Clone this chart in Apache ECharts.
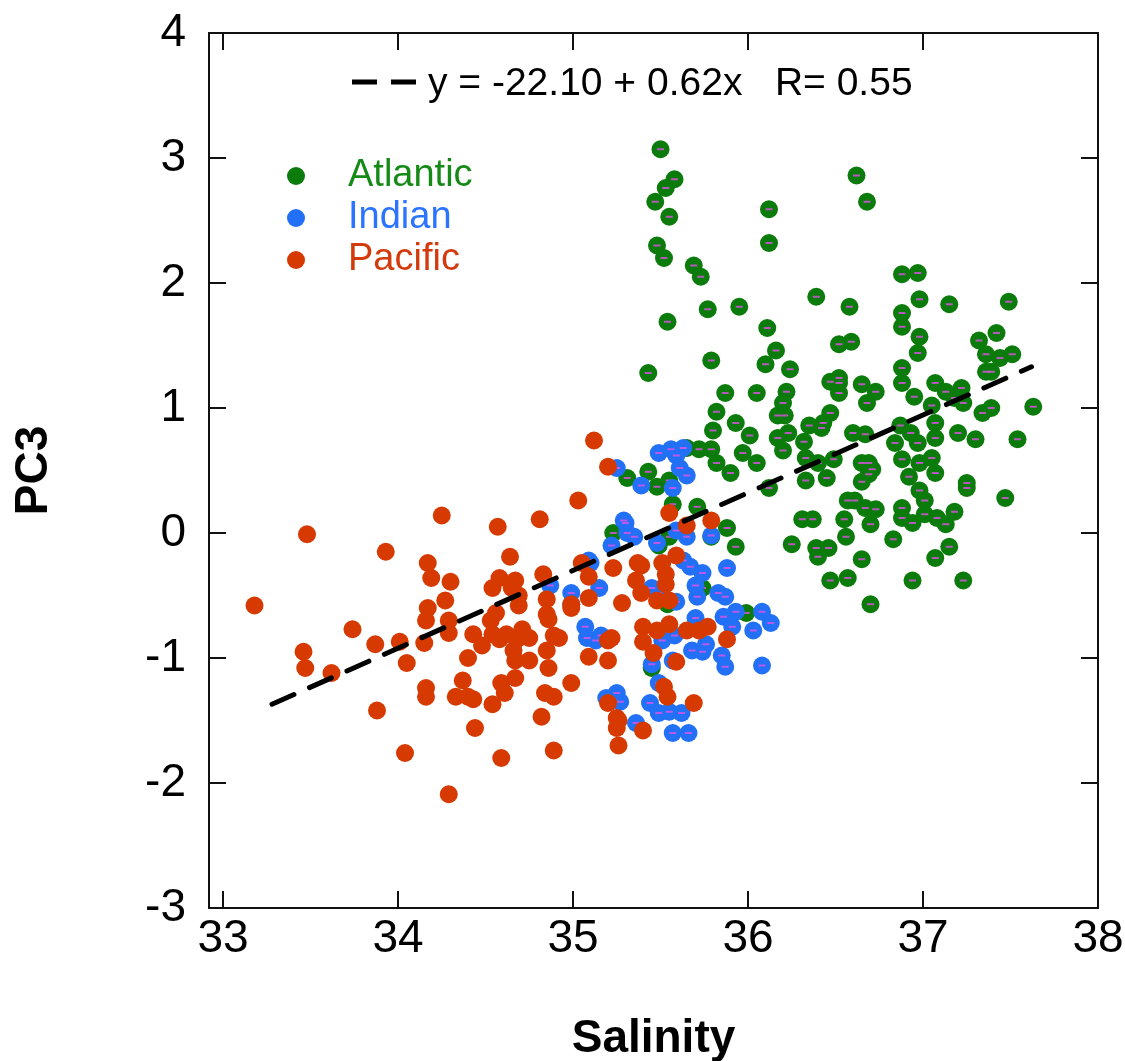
<!DOCTYPE html>
<html>
<head>
<meta charset="utf-8">
<script src="https://cdn.jsdelivr.net/npm/echarts@6/dist/echarts.min.js"></script>
<style>html,body{margin:0;padding:0;background:#fff;}#c{width:1125px;height:1061px;}</style>
</head>
<body>
<div id="c"></div>
<script>
const xTicks = [33, 34, 35, 36, 37, 38];
const yTicks = [-3, -2, -1, 0, 1, 2, 3, 4];
const seriesNames = ['Atlantic', 'Indian', 'Pacific'];
const equationText = 'y = -22.10 + 0.62x   R= 0.55';

const atlantic = [
[35.50,3.07],[35.53,2.76],[35.58,2.83],[35.47,2.65],[35.55,2.53],[35.48,2.30],[35.52,2.20],
[36.62,2.86],[36.68,2.65],[36.12,2.59],[36.12,2.32],[35.69,2.14],[35.73,2.05],[35.54,1.69],
[35.43,1.28],[35.77,1.79],[35.95,1.81],[36.39,1.89],[36.58,1.81],[36.88,2.07],[36.97,2.08],
[36.98,1.87],[37.15,1.83],[37.49,1.85],[36.88,1.76],[36.88,1.65],[36.98,1.57],[36.97,1.44],
[36.11,1.64],[36.16,1.46],[36.10,1.35],[36.24,1.31],[35.79,1.38],[36.52,1.51],[36.59,1.53],
[37.32,1.54],[37.42,1.60],[37.36,1.43],[37.44,1.40],[37.51,1.43],[37.36,1.29],[37.39,1.29],
[36.88,1.32],[36.88,1.20],[36.95,1.09],[37.07,1.20],[37.13,1.13],[37.22,1.16],[37.18,1.08],
[37.23,1.04],[37.05,1.02],[37.07,0.88],[37.07,0.76],[37.20,0.80],[37.30,0.75],[37.34,0.96],
[37.39,1.00],[37.63,1.01],[37.54,0.75],[36.87,0.86],[36.93,0.80],[36.84,0.72],[36.97,0.72],
[36.65,1.19],[36.73,1.13],[36.68,1.04],[36.60,0.80],[36.67,0.79],[36.47,1.21],[36.52,1.24],
[36.52,1.20],[36.52,1.12],[36.47,0.96],[36.43,0.88],[36.42,0.84],[36.35,0.86],[36.32,0.73],
[36.22,1.13],[36.20,1.04],[36.17,0.94],[36.21,0.94],[36.23,0.80],[36.17,0.76],[36.20,0.66],
[36.05,1.12],[35.87,1.12],[35.82,0.97],[35.80,0.82],[35.93,0.88],[36.01,0.78],[35.97,0.64],
[35.72,0.67],[35.79,0.67],[36.88,0.59],[36.98,0.56],[37.05,0.60],[37.07,0.48],[36.92,0.45],
[37.25,0.40],[37.25,0.36],[37.47,0.28],[36.98,0.34],[37.01,0.26],[36.88,0.20],[36.88,0.12],
[36.94,0.08],[37.01,0.15],[37.08,0.12],[37.13,0.07],[37.18,0.17],[37.15,-0.11],[37.07,-0.20],
[37.23,-0.38],[36.94,-0.38],[36.83,-0.05],[36.65,-0.21],[36.70,-0.57],[36.47,-0.38],[36.57,-0.36],
[36.39,-0.12],[36.46,-0.12],[36.40,-0.19],[36.25,-0.09],[36.31,0.11],[36.37,0.11],[36.55,0.11],
[36.56,-0.03],[36.57,0.26],[36.61,0.26],[36.67,0.20],[36.73,0.19],[36.70,0.07],[36.65,0.56],
[36.69,0.56],[36.71,0.51],[36.69,0.47],[36.65,0.41],[36.33,0.42],[36.45,0.44],[36.49,0.59],
[36.40,0.56],[36.33,0.60],[36.12,0.36],[36.05,0.56],[35.90,0.48],[35.65,0.68],[35.82,0.56],
[35.88,0.04],[35.93,-0.11],[35.71,0.21],[35.79,-0.03],[35.43,0.49],[35.31,0.44],[35.48,0.37],
[35.55,0.42],[35.57,0.23],[35.55,-0.03],[35.23,0.00],[35.49,-0.10],[35.99,-0.64],[35.45,-1.08],
[35.74,-0.44],[35.54,-0.57]
];

const indian = [
[35.56,0.67],[35.49,0.64],[35.59,0.62],[35.63,0.68],[35.61,0.52],[35.65,0.46],[35.39,0.38],
[35.57,0.36],[35.25,0.52],[35.30,0.08],[35.31,0.00],[35.35,-0.03],[35.22,-0.10],[35.48,-0.08],
[35.59,0.02],[35.65,-0.03],[35.79,-0.02],[35.88,-0.28],[35.74,-0.32],[35.63,-0.22],[35.67,-0.27],
[35.70,-0.42],[35.71,-0.51],[35.83,-0.48],[35.87,-0.51],[35.93,-0.63],[36.08,-0.63],[36.13,-0.72],
[36.03,-0.78],[36.08,-1.06],[35.86,-0.67],[35.91,-0.75],[34.99,-0.48],[34.99,-0.57],[35.15,-0.44],
[35.10,-0.24],[35.07,-0.75],[35.08,-0.84],[35.16,-0.82],[35.13,-0.86],[35.45,-0.44],[35.49,-0.48],
[35.59,-0.55],[35.70,-0.68],[35.58,-0.82],[35.51,-0.86],[35.68,-0.94],[35.74,-0.95],[35.76,-0.89],
[35.85,-0.98],[35.87,-1.07],[35.57,-1.02],[35.45,-1.05],[35.25,-1.28],[35.19,-1.32],[35.27,-1.35],
[35.44,-1.36],[35.49,-1.20],[35.49,-1.44],[35.55,-1.43],[35.62,-1.44],[35.36,-1.52],[35.57,-1.60],
[35.66,-1.60],[34.87,-0.42],[35.29,0.10],[35.09,-0.22]
];

const pacific = [
[35.03,0.26],[34.25,0.14],[34.57,0.05],[34.81,0.11],[33.48,-0.01],[33.93,-0.15],[34.64,-0.19],
[34.17,-0.24],[34.19,-0.36],[34.30,-0.39],[34.83,-0.33],[35.05,-0.24],[35.09,-0.35],[35.23,-0.28],
[34.58,-0.36],[34.67,-0.38],[34.54,-0.44],[34.65,-0.44],[34.69,-0.50],[34.69,-0.58],[34.27,-0.54],
[34.85,-0.53],[34.85,-0.65],[35.09,-0.52],[34.99,-0.57],[35.28,-0.56],[33.18,-0.58],[34.17,-0.60],
[34.16,-0.70],[34.29,-0.70],[34.29,-0.80],[34.56,-0.64],[34.53,-0.70],[33.74,-0.77],[33.87,-0.89],
[34.01,-0.87],[34.15,-0.88],[33.46,-0.95],[33.47,-1.08],[33.62,-1.12],[34.05,-1.04],[34.43,-0.81],
[34.54,-0.81],[34.48,-0.90],[34.58,-0.85],[34.62,-0.81],[34.71,-0.77],[34.75,-0.84],[34.68,-0.85],
[34.66,-0.94],[34.40,-1.00],[34.67,-1.02],[34.75,-1.02],[34.85,-0.94],[34.86,-1.08],[34.89,-0.82],
[34.92,-0.84],[34.86,-0.69],[34.37,-1.18],[34.67,-1.16],[34.59,-1.20],[34.61,-1.28],[34.54,-1.37],
[34.33,-1.31],[34.40,-1.31],[34.43,-1.33],[34.16,-1.24],[34.16,-1.31],[34.84,-1.28],[34.89,-1.31],
[34.99,-1.20],[34.82,-1.47],[33.88,-1.42],[34.44,-1.56],[34.04,-1.76],[34.59,-1.80],[34.89,-1.74],
[34.29,-2.09],[35.20,-1.36],[35.25,-1.48],[35.25,-1.56],[35.26,-1.70],[35.20,-0.86],[35.20,-1.02],
[35.09,-0.99],[35.12,0.74],[35.20,0.53],[35.55,0.16],[35.65,0.06],[35.79,0.10],[35.37,-0.24],
[35.39,-0.26],[35.36,-0.38],[35.39,-0.48],[35.51,-0.24],[35.59,-0.18],[35.53,-0.33],[35.53,-0.41],
[35.48,-0.54],[35.55,-0.54],[34.99,-0.60],[35.40,-0.75],[35.48,-0.78],[35.55,-0.73],[35.65,-0.78],
[35.72,-0.78],[35.77,-0.75],[35.88,-0.85],[35.40,-0.87],[35.46,-0.96],[35.59,-1.03],[35.22,-0.84],
[35.52,-1.23],[35.54,-1.31],[35.69,-1.36],[35.26,-1.50],[35.40,-1.58]
];

const fitLine = [[33.28, -1.37], [37.62, 1.33]];

const colors = { Atlantic: '#0b7b0b', Indian: '#2170f5', Pacific: '#d63a00' };
const textColors = { Atlantic: '#168a16', Indian: '#2a74ff', Pacific: '#d33a0c' };
const FONT = '"Liberation Sans", Arial, Helvetica, sans-serif';

const chart = echarts.init(document.getElementById('c'), null, { renderer: 'canvas' });

function pointSeries(name, data) {
  return {
    name: name, type: 'scatter', data: data, symbol: 'circle', symbolSize: 18,
    itemStyle: { color: colors[name], opacity: 1 }, silent: true, z: 3
  };
}
function dashSeries(name, data) {
  return {
    name: name + ' mark', type: 'scatter', data: data, symbol: 'rect', symbolSize: [7, 2],
    itemStyle: { color: '#e052e8' }, silent: true, z: 3
  };
}

const axisLineStyle = { show: true, onZero: false, lineStyle: { color: '#111', width: 2 } };
const tickStyle = { show: true, inside: true, length: 17, lineStyle: { color: '#111', width: 2 } };

chart.setOption({
  animation: false,
  backgroundColor: '#fff',
  grid: { left: 209, right: 27, top: 33, bottom: 153, outerBoundsMode: 'none', containLabel: false },
  xAxis: [
    {
      type: 'value', min: 32.92, max: 38, position: 'bottom',
      name: 'Salinity', nameLocation: 'middle', nameGap: 108,
      nameTextStyle: { fontFamily: FONT, fontSize: 46, fontWeight: 'bold', color: '#000' },
      axisLine: axisLineStyle,
      axisTick: Object.assign({ customValues: xTicks }, tickStyle),
      axisLabel: { show: true, customValues: xTicks, margin: 8, fontFamily: FONT, fontSize: 46, color: '#000' },
      splitLine: { show: false }
    },
    {
      type: 'value', min: 32.92, max: 38, position: 'top',
      axisLine: axisLineStyle,
      axisTick: Object.assign({ customValues: xTicks }, tickStyle),
      axisLabel: { show: false }, splitLine: { show: false }
    }
  ],
  yAxis: [
    {
      type: 'value', min: yTicks[0], max: yTicks[yTicks.length - 1], interval: 1, position: 'left',
      name: 'PC3', nameLocation: 'middle', nameGap: 152, nameRotate: 90,
      nameTextStyle: { fontFamily: FONT, fontSize: 46, fontWeight: 'bold', color: '#000' },
      axisLine: axisLineStyle,
      axisTick: tickStyle,
      axisLabel: { show: true, margin: 23, fontFamily: FONT, fontSize: 46, color: '#000', padding: [0, 0, 8, 0] },
      splitLine: { show: false }
    },
    {
      type: 'value', min: yTicks[0], max: yTicks[yTicks.length - 1], interval: 1, position: 'right',
      axisLine: axisLineStyle,
      axisTick: tickStyle,
      axisLabel: { show: false }, splitLine: { show: false }
    }
  ],
  legend: {
    orient: 'vertical', left: 282, top: 152, itemGap: 4,
    itemWidth: 18, itemHeight: 18, icon: 'circle',
    textStyle: { fontFamily: FONT, fontSize: 38, padding: [0, 0, 0, 38], lineHeight: 38 },
    data: seriesNames.map(n => ({ name: n, textStyle: { color: textColors[n] } })),
    selectedMode: false
  },
  graphic: [
    { type: 'line', shape: { x1: 352, y1: 82, x2: 416, y2: 82 },
      style: { stroke: '#000', lineWidth: 5, lineDash: [25, 14] } },
    { type: 'text', left: 428, top: 65,
      style: { text: equationText, fontFamily: FONT, fontSize: 39, fill: '#000' } }
  ],
  series: [
    pointSeries('Atlantic', atlantic), dashSeries('Atlantic', atlantic),
    pointSeries('Indian', indian), dashSeries('Indian', indian),
    pointSeries('Pacific', pacific),
    {
      name: 'fit', type: 'line', data: fitLine, symbol: 'none', silent: true, z: 4,
      lineStyle: { color: '#000', width: 5, type: [24, 17], cap: 'round' }
    }
  ]
});
</script>
</body>
</html>
